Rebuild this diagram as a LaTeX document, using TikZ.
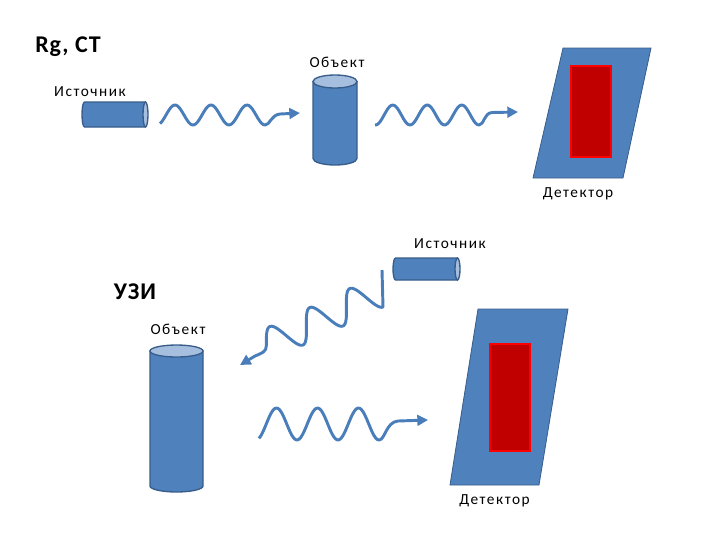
\documentclass[tikz,border=0pt]{standalone}
\usepackage{fontspec}
\setmainfont{Carlito}
\newfontfamily\lblfont[LetterSpace=10]{Carlito}
\newfontfamily\headfont[LetterSpace=4]{Carlito}
\usetikzlibrary{arrows.meta,positioning}
\definecolor{tubefill}{HTML}{4F81BD}
\definecolor{tubeedge}{HTML}{385D8A}
\definecolor{tubeend}{HTML}{A7BFDE}
\definecolor{wavecol}{HTML}{4A7EBB}
\definecolor{sensfill}{HTML}{C00000}
\definecolor{sensedge}{HTML}{FF0000}
\newcommand{\vtube}[6]{%
  \coordinate (#1) at (#2,#3);
  \filldraw[tubebody] (#2-#4,#3-#5+#6) -- (#2-#4,#3+#5-#6) arc[start angle=180, end angle=0, x radius=#4, y radius=#6] -- (#2+#4,#3-#5+#6) -- cycle;
  \filldraw[tubetop] (#2,#3-#5+#6) ellipse[x radius=#4, y radius=#6];}
\newcommand{\htube}[6]{%
  \coordinate (#1) at (#2,#3);
  \filldraw[tubebody] (#2+#5-#6,#3-#4) -- (#2+#5-#6,#3+#4) -- (#2-#5+#6,#3+#4) arc[start angle=90, end angle=270, x radius=#6, y radius=#4] -- cycle;
  \filldraw[tubetop] (#2+#5-#6,#3) ellipse[x radius=#6, y radius=#4];}

\begin{document}
\begin{tikzpicture}[x=0.75pt, y=-0.75pt, node distance=4pt,
  every node/.style={inner sep=0pt},
  tubebody/.style={fill=tubefill, draw=tubeedge, line width=1pt},
  tubetop/.style={fill=tubeend, draw=tubeedge, line width=1pt},
  wave/.style={wavecol, line width=2.2pt, line join=round, -{Triangle[length=8pt, width=8pt]}},
  txt/.style={font=\lblfont\fontsize{11.5}{13}\selectfont},
  headtxt/.style={font=\headfont\fontsize{18}{21}\selectfont\bfseries},
  detframe/.style={fill=tubefill, draw=tubeedge, line width=0.6pt},
  sensor/.style={rectangle, fill=sensfill, draw=sensedge, line width=1.2pt}]
\useasboundingbox (0,0) rectangle (720,540);

\node[headtxt] (rgct) at (68,47) {Rg, CT};
\htube{src1}{115}{114.5}{12.5}{33}{2.5}
\node[txt] (src1lbl) at (90,92) {Источник};
\vtube{obj1}{335}{120}{22}{45}{6.5}
\node[txt] (obj1lbl) at (337,62) {Объект};
\draw[detframe] (533,178) -- (563,48) -- (651,48) -- (623,178) -- cycle;
\node[sensor, minimum width=30.3pt, minimum height=68.5pt] (sens1) at (591,111.5) {};
\coordinate (det1) at (578,178);
\node[txt, below=7pt of det1] (det1lbl) {Детектор};
\draw[wave] plot[domain=160:265, samples=60] (\x,{115+10*cos(10*(\x-193))}) .. controls (270,125) and (271,115) .. (280,114) -- (300,113);
\draw[wave] plot[domain=375:479, samples=60] (\x,{115+10*cos(10.4348*(\x-410))}) .. controls (484,125) and (484,113) .. (492,112.5) -- (518,112);

\node[txt] (src2lbl) at (450,244) {Источник};
\htube{src2}{426.5}{269}{11}{33.5}{2.5}
\node[headtxt] (uzi) at (135,292) {УЗИ};
\vtube{obj2}{176.5}{418.5}{26.5}{73.5}{6}
\node[txt] (obj2lbl) at (178,329) {Объект};
\draw[detframe] (450,485) -- (478,309) -- (568,309) -- (539,485) -- cycle;
\node[sensor, minimum width=30pt, minimum height=80.5pt] (sens2) at (510,397.5) {};
\coordinate (det2) at (494.5,485);
\node[txt, below=7pt of det2] (det2lbl) {Детектор};
\draw[wave] (382,270) -- (383,307) -- plot[domain=0:2.75, samples=80, variable=\t] ({376.4-40*\t+6.65*cos(360*\t)},{293+19*\t+14*cos(360*\t)}) .. controls (266.4,352) and (262,353) .. (255,356) -- (240,365);
\draw[wave] plot[domain=259:379, samples=70] (\x,{424+16*cos(8.7805*(\x-297))}) .. controls (385,440) and (386,422) .. (398,421) -- (428,420);
\end{tikzpicture}
\end{document}
